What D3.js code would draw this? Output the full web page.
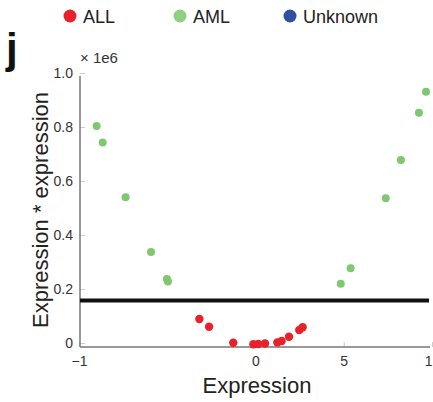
<!DOCTYPE html>
<html><head><meta charset="utf-8">
<script src="https://cdn.jsdelivr.net/npm/d3@7"></script>
<style>body{margin:0;background:#fff}svg{display:block}text{font-family:"Liberation Sans",Arial,sans-serif}</style>
</head><body><svg id="c" width="433" height="402"></svg>
<script>
const classes = ["ALL", "AML", "Unknown"];
const classColors = ["#e8212a", "#8fcf7f", "#2f4f9f"];
const amlX = [-9.0, -8.66, -7.36, -5.92, -5.02, -4.96, 4.83, 5.39, 7.38, 8.24, 9.26, 9.66];
const amlY = [0.804, 0.743, 0.540, 0.337, 0.237, 0.228, 0.219, 0.277, 0.536, 0.678, 0.853, 0.931];
const allX = [-3.18, -2.63, -1.26, -0.12, 0.16, 0.54, 1.24, 1.48, 1.90, 2.48, 2.67];
const allY = [0.089, 0.060, 0.001, -0.005, -0.004, -0.002, 0.002, 0.007, 0.023, 0.048, 0.058];
const threshold = 0.157;
const xTickVals = [-10, 0, 5, 10];
const xTickLabels = ["\u22121", "0", "5", "1"];
const yTickVals = [0, 0.2, 0.4, 0.6, 0.8, 1.0];
const yTickLabels = ["0", "0.2", "0.4", "0.6", "0.8", "1.0"];

const svg = d3.select("#c");
const x = d3.scaleLinear().domain([-10, 10]).range([79, 432]);
const y = d3.scaleLinear().domain([-0.015, 1.0]).range([347, 73]);
const axL = 80, axB = 347;

// axes
const xAxis = d3.axisBottom(x).tickValues(xTickVals).tickFormat((d,i)=>xTickLabels[i]).tickSize(-5).tickPadding(9);
const gx = svg.append("g").attr("transform", `translate(0,${axB})`).call(xAxis);
gx.select(".domain").remove();
gx.selectAll(".tick line").attr("stroke", "#ccc");
gx.selectAll(".tick text").attr("fill", "#333").attr("font-size", 14).attr("font-family", "Liberation Sans, Arial, sans-serif");
gx.selectAll(".tick text").filter(d=>d===10).attr("text-anchor", "end").attr("dx", 0);

const yAxis = d3.axisLeft(y).tickValues(yTickVals).tickFormat((d,i)=>yTickLabels[i]).tickSize(-5).tickPadding(7);
const gy = svg.append("g").attr("transform", `translate(${axL},0)`).call(yAxis);
gy.select(".domain").remove();
gy.selectAll(".tick line").attr("stroke", "#ccc");
gy.selectAll(".tick text").attr("fill", "#333").attr("font-size", 14).attr("font-family", "Liberation Sans, Arial, sans-serif");

svg.append("line").attr("x1", axL).attr("x2", axL).attr("y1", 76).attr("y2", axB).attr("stroke", "#777").attr("stroke-width", 1.5);
svg.append("line").attr("x1", axL).attr("x2", 430).attr("y1", axB).attr("y2", axB).attr("stroke", "#777").attr("stroke-width", 1.5);

// threshold
svg.append("line").attr("x1", axL).attr("x2", 429).attr("y1", y(threshold)).attr("y2", y(threshold)).attr("stroke", "#111").attr("stroke-width", 4);

// points
const aml = amlX.map((v,i)=>({x:v, y:amlY[i]}));
const all = allX.map((v,i)=>({x:v, y:allY[i]}));
svg.append("g").selectAll("circle").data(aml).join("circle")
  .attr("cx", d=>x(d.x)).attr("cy", d=>y(d.y)).attr("r", 4).attr("fill", "#7fc86f");
svg.append("g").selectAll("circle").data(all).join("circle")
  .attr("cx", d=>x(d.x)).attr("cy", d=>y(d.y)).attr("r", 4.2).attr("fill", "#e8212a");

// legend
const lg = svg.append("g");
const legX = [70, 180, 290];
classes.forEach((c,i)=>{
  lg.append("circle").attr("cx", legX[i]).attr("cy", 16).attr("r", 6.5).attr("fill", classColors[i]);
  lg.append("text").attr("x", legX[i]+13).attr("y", 22.5).attr("font-size", 18).attr("fill", "#222").text(c);
});

// panel letter
svg.append("text").attr("x", 6).attr("y", 63).attr("font-size", 42).attr("font-weight", "bold").attr("fill", "#111").text("j");
// multiplier
svg.append("text").attr("x", 80).attr("y", 63).attr("font-size", 15).attr("fill", "#333").text("\u00d7 1e6");

// axis labels
svg.append("text").attr("x", 257).attr("y", 393).attr("text-anchor", "middle").attr("font-size", 22).attr("fill", "#222").text("Expression");
svg.append("text").attr("transform", "translate(48,210) rotate(-90)").attr("text-anchor", "middle").attr("font-size", 22).attr("fill", "#222").text("Expression * expression");
</script></body></html>
